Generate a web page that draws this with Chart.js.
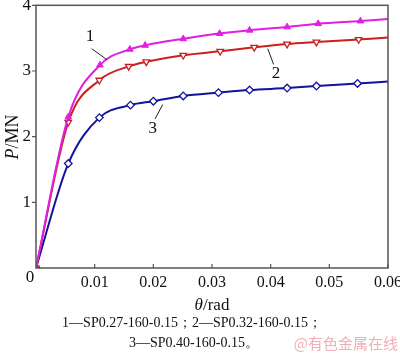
<!DOCTYPE html>
<html>
<head>
<meta charset="utf-8">
<script src="https://cdn.jsdelivr.net/npm/chart.js@4"></script>
<style>
  html, body { margin: 0; padding: 0; background: #fff; }
  #wrap { width: 400px; height: 358px; position: relative; }
</style>
</head>
<body>
<div id="wrap"><canvas id="chart"></canvas></div>
<script>
// curve 1 - SP0.27-160-0.15
const theta1 = [0, 0.0055, 0.0109, 0.0160, 0.0186, 0.0251, 0.0313, 0.0364, 0.0428, 0.0481, 0.0553, 0.0600];
const load1 = [0, 2.30, 3.09, 3.33, 3.39, 3.49, 3.57, 3.62, 3.67, 3.72, 3.76, 3.79];
// curve 2 - SP0.32-160-0.15
const theta2 = [0, 0.0055, 0.0108, 0.0158, 0.0188, 0.0251, 0.0314, 0.0372, 0.0428, 0.0478, 0.0550, 0.0600];
const load2 = [0, 2.22, 2.86, 3.07, 3.14, 3.24, 3.30, 3.36, 3.41, 3.44, 3.48, 3.51];
// curve 3 - SP0.40-160-0.15
const theta3 = [0, 0.0055, 0.0108, 0.0161, 0.0200, 0.0251, 0.0311, 0.0364, 0.0428, 0.0478, 0.0548, 0.0600];
const load3 = [0, 1.59, 2.29, 2.48, 2.54, 2.62, 2.67, 2.71, 2.74, 2.77, 2.81, 2.84];

const xTicks = [0.01, 0.02, 0.03, 0.04, 0.05, 0.06];
const yTicks = [1, 2, 3, 4];

// curve labels: [text, textX, textY, lineX1, lineY1, lineX2, lineY2]
const curveLabels = [
	['1', 0.0092, 3.52, 0.0095, 3.34, 0.0121, 3.17],
	['2', 0.0409, 2.96, 0.0395, 3.34, 0.0405, 3.10],
	['3', 0.0199, 2.13, 0.0203, 2.27, 0.0216, 2.49]
];
const captionLines = ['1—SP0.27-160-0.15；2—SP0.32-160-0.15；', '3—SP0.40-160-0.15。'];

const serif = '"Liberation Serif", "DejaVu Serif", serif';

function toPoints(xs, ys) {
	return xs.map((x, i) => ({ x: x, y: ys[i] }));
}

function lastHidden(r) {
	return ctx => ctx.dataIndex === ctx.dataset.data.length - 1 ? 0 : r;
}

const extras = {
	id: 'extras',
	afterDraw(chart) {
		const c = chart.ctx;
		const a = chart.chartArea;
		const xs = chart.scales.x;
		const ys = chart.scales.y;
		c.save();

		// frame
		c.strokeStyle = '#555';
		c.lineWidth = 1.5;
		c.strokeRect(a.left, a.top, a.right - a.left, a.bottom - a.top);

		// x ticks point inward, y ticks outward
		c.lineWidth = 1.2;
		c.beginPath();
		xTicks.forEach(v => {
			const px = xs.getPixelForValue(v);
			c.moveTo(px, a.bottom);
			c.lineTo(px, a.bottom - 4);
		});
		yTicks.forEach(v => {
			const py = ys.getPixelForValue(v);
			c.moveTo(a.left, py);
			c.lineTo(a.left - 4, py);
		});
		c.stroke();

		c.fillStyle = '#111';
		c.font = '17px ' + serif;
		c.textAlign = 'center';
		c.textBaseline = 'middle';
		c.fillText('0', a.left - 6, a.bottom + 10);

		// curve labels with leader lines
		c.strokeStyle = '#222';
		c.lineWidth = 1;
		curveLabels.forEach(l => {
			c.fillText(l[0], xs.getPixelForValue(l[1]), ys.getPixelForValue(l[2]));
			c.beginPath();
			c.moveTo(xs.getPixelForValue(l[3]), ys.getPixelForValue(l[4]));
			c.lineTo(xs.getPixelForValue(l[5]), ys.getPixelForValue(l[6]));
			c.stroke();
		});

		// x title
		c.textAlign = 'left';
		c.font = 'italic 17px ' + serif;
		const w1 = c.measureText('θ').width;
		c.font = '17px ' + serif;
		const w2 = c.measureText('/rad').width;
		let tx = 212 - (w1 + w2) / 2;
		c.font = 'italic 17px ' + serif;
		c.fillText('θ', tx, 306);
		c.font = '17px ' + serif;
		c.fillText('/rad', tx + w1, 306);

		// y title
		c.save();
		c.translate(13, 137);
		c.rotate(-Math.PI / 2);
		c.font = 'italic 18px ' + serif;
		const w3 = c.measureText('P').width;
		c.font = '18px ' + serif;
		const w4 = c.measureText('/MN').width;
		tx = -(w3 + w4) / 2;
		c.font = 'italic 18px ' + serif;
		c.fillText('P', tx, 0);
		c.font = '18px ' + serif;
		c.fillText('/MN', tx + w3, 0);
		c.restore();

		// caption
		c.textAlign = 'center';
		c.font = '14px ' + serif;
		c.fillText(captionLines[0], 192, 323);
		c.fillText(captionLines[1], 194, 343);

		// watermark
		c.fillStyle = 'rgba(235, 140, 150, 0.7)';
		c.font = '15px "Noto Sans CJK SC", sans-serif';
		c.textAlign = 'right';
		c.fillText('@有色金属在线', 398, 343);
		c.restore();
	}
};

const chartPA = new Chart(document.querySelector('#chart').getContext('2d'), {
	type: 'line',
	data: {
		datasets: [
			{
				label: '1',
				data: toPoints(theta1, load1),
				borderColor: '#e020e0',
				backgroundColor: '#e020e0',
				borderWidth: 2,
				pointStyle: 'triangle',
				pointRadius: lastHidden(3.8),
				pointBorderWidth: 1,
				cubicInterpolationMode: 'monotone'
			},
			{
				label: '2',
				data: toPoints(theta2, load2),
				borderColor: '#cc1f1f',
				backgroundColor: '#ffffff',
				pointBorderColor: '#cc1f1f',
				borderWidth: 2,
				pointStyle: 'triangle',
				rotation: 180,
				pointRadius: lastHidden(3.8),
				pointBorderWidth: 1.3,
				cubicInterpolationMode: 'monotone'
			},
			{
				label: '3',
				data: toPoints(theta3, load3),
				borderColor: '#12129c',
				backgroundColor: '#ffffff',
				pointBorderColor: '#12129c',
				borderWidth: 2,
				pointStyle: 'rectRot',
				pointRadius: lastHidden(3.8),
				pointBorderWidth: 1.3,
				cubicInterpolationMode: 'monotone'
			}
		]
	},
	options: {
		responsive: true,
		maintainAspectRatio: false,
		animation: false,
		layout: {
			padding: { left: 0, right: 12, top: 5, bottom: 0 }
		},
		scales: {
			x: {
				type: 'linear',
				min: 0,
				max: 0.06,
				grid: { display: false, drawTicks: false },
				border: { display: false },
				afterBuildTicks: scale => {
					scale.ticks = xTicks.map(v => ({ value: v }));
				},
				afterFit: scale => {
					scale.height = 90;
					scale.paddingLeft = 0;
					scale.paddingRight = 0;
				},
				ticks: {
					autoSkip: false,
					maxRotation: 0,
					padding: 5,
					color: '#111',
					font: { family: serif, size: 16 },
					callback: v => v.toFixed(2)
				}
			},
			y: {
				min: 0,
				max: 4,
				grid: { display: false, drawTicks: false },
				border: { display: false },
				afterBuildTicks: scale => {
					scale.ticks = yTicks.map(v => ({ value: v }));
				},
				afterFit: scale => {
					scale.width = 36;
					scale.paddingTop = 0;
					scale.paddingBottom = 0;
				},
				ticks: {
					padding: 5,
					color: '#111',
					font: { family: serif, size: 17 }
				}
			}
		},
		plugins: {
			legend: { display: false },
			tooltip: { enabled: false },
			title: { display: false }
		}
	},
	plugins: [extras]
});
</script>
</body>
</html>
